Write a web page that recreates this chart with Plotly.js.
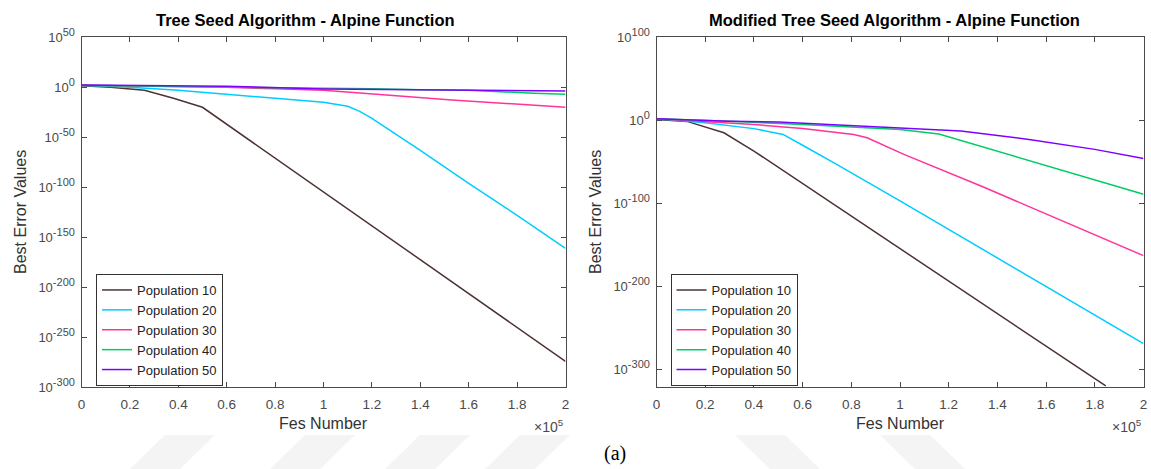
<!DOCTYPE html>
<html>
<head>
<meta charset="utf-8">
<script src="https://cdn.plot.ly/plotly-3.0.1.min.js"></script>
<style>html,body{margin:0;padding:0;background:#fff;}#chart{width:1151px;height:469px;}</style>
</head>
<body>
<div id="chart"></div>
<script>
// ---------- data ----------
const seriesNames = ["Population 10", "Population 20", "Population 30", "Population 40", "Population 50"];
const seriesColors = ["#4d3333", "#00ccff", "#ff3399", "#00cc66", "#8000ff"];

// Left panel: Tree Seed Algorithm
const tsaX10 = [0, 12000, 26000, 38000, 50000, 73000, 115000, 162000, 200000];
const tsaY10 = [3e1, 1e0, 1e-3, 1e-11, 1e-20, 1e-59, 1e-130, 1e-210, 1e-274];
const tsaX20 = [0, 20000, 40000, 60000, 80000, 100000, 110000, 115000, 120000, 140000, 160000, 180000, 200000];
const tsaY20 = [1e2, 1e0, 1e-3, 1e-7, 1e-11, 1e-15, 1e-19, 1e-24, 1e-31, 1e-63, 1e-96, 1e-128, 1e-161];
const tsaX30 = [0, 30000, 60000, 80000, 100000, 126000, 153000, 181000, 200000];
const tsaY30 = [1e2, 1e1, 1e0, 3e-2, 1e-3, 2e-8, 2e-13, 1e-17, 1e-20];
const tsaX40 = [0, 40000, 80000, 120000, 140000, 160000, 187000, 200000];
const tsaY40 = [1e2, 1e1, 1e0, 3e-2, 3e-3, 1e-3, 1e-6, 1e-7];
const tsaX50 = [0, 60000, 100000, 160000, 195000, 200000];
const tsaY50 = [2e2, 1e1, 2e-2, 2e-3, 1e-3, 2e-4];

// Right panel: Modified Tree Seed Algorithm
const mtsaX10 = [0, 12500, 27700, 40000, 184500];
const mtsaY10 = [1e1, 5e-2, 1e-15, 1e-37, 1e-320];
const mtsaX20 = [0, 20000, 40000, 52000, 60000, 74000, 100000, 138000, 169000, 200000];
const mtsaY20 = [1e2, 1e-3, 1e-10, 1e-17, 1e-30, 1e-53, 1e-97, 1e-162, 1e-215, 1e-269];
const mtsaX30 = [0, 40000, 60000, 81000, 86500, 101600, 134000, 179000, 200000];
const mtsaY30 = [1e2, 1e-5, 1e-10, 1e-17, 1e-21, 1e-41, 1e-80, 1e-137, 1e-163];
const mtsaX40 = [0, 30000, 60000, 80000, 100000, 116000, 120000, 139000, 164000, 184000, 200000];
const mtsaY40 = [1e2, 1e-1, 1e-5, 1e-8, 1e-11, 3e-17, 1e-20, 1e-36, 1e-58, 1e-75, 1e-89];
const mtsaX50 = [0, 30000, 50000, 100000, 125000, 153000, 180000, 200000];
const mtsaY50 = [1e2, 1e-1, 1e-2, 1e-9, 1e-13, 1e-23, 1e-35, 1e-46];

// ticks
const xTickVals = [0, 20000, 40000, 60000, 80000, 100000, 120000, 140000, 160000, 180000, 200000];
const xTickText = ["0", "0.2", "0.4", "0.6", "0.8", "1", "1.2", "1.4", "1.6", "1.8", "2"];
const yTickExpLeft = [50, 0, -50, -100, -150, -200, -250, -300];
const yTickExpRight = [100, 0, -100, -200, -300];

const titles = ["Tree Seed Algorithm - Alpine Function", "Modified Tree Seed Algorithm - Alpine Function"];

// ---------- build ----------
const leftX = [tsaX10, tsaX20, tsaX30, tsaX40, tsaX50];
const leftY = [tsaY10, tsaY20, tsaY30, tsaY40, tsaY50];
const rightX = [mtsaX10, mtsaX20, mtsaX30, mtsaX40, mtsaX50];
const rightY = [mtsaY10, mtsaY20, mtsaY30, mtsaY40, mtsaY50];

const traces = [];
for (let i = 0; i < 5; i++) {
  traces.push({x: leftX[i], y: leftY[i], type: 'scatter', mode: 'lines', name: seriesNames[i],
    line: {color: seriesColors[i], width: 1.5}, xaxis: 'x', yaxis: 'y', legend: 'legend'});
}
for (let i = 0; i < 5; i++) {
  traces.push({x: rightX[i], y: rightY[i], type: 'scatter', mode: 'lines', name: seriesNames[i],
    line: {color: seriesColors[i], width: 1.5}, xaxis: 'x2', yaxis: 'y2', legend: 'legend2'});
}

const W = 1151, H = 469;
const px = v => v / W, py = v => 1 - v / H;
const axCol = '#4a4a4a';
const FAM = 'Liberation Sans, Arial, sans-serif';
const tickFont = {family: FAM, size: 13.5, color: '#4a4a4a'};

function xAxis(domain, anchor) {
  return {domain: domain, anchor: anchor, range: [0, 200000], tickmode: 'array', tickvals: xTickVals, ticktext: xTickText,
    ticks: 'inside', ticklen: 5, tickcolor: axCol, showline: true, linecolor: axCol, linewidth: 1, mirror: 'ticks',
    showgrid: false, zeroline: false, tickfont: tickFont, ticklabelstandoff: 4, fixedrange: true};
}
function yAxis(domain, anchor, range, exps) {
  return {domain: domain, anchor: anchor, type: 'log', range: range, tickmode: 'array',
    tickvals: exps.map(e => Math.pow(10, e)),
    ticktext: exps.map(e => '10<sup><span style="font-size:11px">' + e + '</span></sup>'),
    ticks: 'inside', ticklen: 5, tickcolor: axCol, showline: true, linecolor: axCol, linewidth: 1, mirror: 'ticks',
    showgrid: false, zeroline: false, tickfont: {family: FAM, size: 13, color: '#4a4a4a'}, ticklabelstandoff: 3, fixedrange: true};
}

const yDom = [py(387.3), py(37.3)];
const lDom = [px(81.5), px(565.5)];
const rDom = [px(656.5), px(1143.5)];

const labFont = {family: FAM, size: 16, color: '#333'};
const titFont = {family: FAM, size: 16.5, color: '#000'};
const legFont = {family: FAM, size: 13, color: '#222'};

const annotations = [
  {text: '<b>' + titles[0] + '</b>', x: px(305), y: py(20), xref: 'paper', yref: 'paper', showarrow: false, font: titFont, xanchor: 'center', yanchor: 'middle'},
  {text: '<b>' + titles[1] + '</b>', x: px(894), y: py(20), xref: 'paper', yref: 'paper', showarrow: false, font: titFont, xanchor: 'center', yanchor: 'middle'},
  {text: 'Fes Number', x: px(323.5), y: py(423), xref: 'paper', yref: 'paper', showarrow: false, font: labFont, xanchor: 'center', yanchor: 'middle'},
  {text: 'Fes Number', x: px(900), y: py(423), xref: 'paper', yref: 'paper', showarrow: false, font: labFont, xanchor: 'center', yanchor: 'middle'},
  {text: 'Best Error Values', x: px(20), y: py(212), xref: 'paper', yref: 'paper', showarrow: false, font: labFont, textangle: -90, xanchor: 'center', yanchor: 'middle'},
  {text: 'Best Error Values', x: px(595), y: py(212), xref: 'paper', yref: 'paper', showarrow: false, font: labFont, textangle: -90, xanchor: 'center', yanchor: 'middle'},
  {text: '×10<sup>5</sup>', x: px(566), y: py(426), xref: 'paper', yref: 'paper', showarrow: false, font: {family: FAM, size: 14, color: '#4a4a4a'}, xanchor: 'right', yanchor: 'middle'},
  {text: '×10<sup>5</sup>', x: px(1144), y: py(426), xref: 'paper', yref: 'paper', showarrow: false, font: {family: FAM, size: 14, color: '#4a4a4a'}, xanchor: 'right', yanchor: 'middle'},
  {text: '(a)', x: px(615), y: py(453), xref: 'paper', yref: 'paper', showarrow: false, font: {family: 'Liberation Serif, Times New Roman, serif', size: 20, color: '#000'}, xanchor: 'center', yanchor: 'middle'}
];

// faint watermark stripes at the bottom
const shapes = [];
const stripeL = [165, 305, 420, 520];
stripeL.forEach(s => shapes.push({type: 'path', xref: 'paper', yref: 'paper', layer: 'below', line: {width: 0}, fillcolor: '#f4f4f4',
  path: `M${px(s)},${py(435)} L${px(s + 50)},${py(435)} L${px(s + 15)},${py(469)} L${px(s - 35)},${py(469)} Z`}));
const stripeR = [735, 880];
stripeR.forEach(s => shapes.push({type: 'path', xref: 'paper', yref: 'paper', layer: 'below', line: {width: 0}, fillcolor: '#f4f4f4',
  path: `M${px(s)},${py(435)} L${px(s + 50)},${py(435)} L${px(s + 85)},${py(469)} L${px(s + 35)},${py(469)} Z`}));

function legendCfg(xp) {
  return {x: px(xp), y: py(330), xanchor: 'left', yanchor: 'middle', xref: 'paper', yref: 'paper',
    bgcolor: '#fff', bordercolor: '#333', borderwidth: 1, font: legFont, tracegroupgap: 0, itemwidth: 30};
}

const layout = {
  width: W, height: H, margin: {l: 0, r: 0, t: 0, b: 0}, paper_bgcolor: '#fff', plot_bgcolor: '#fff',
  showlegend: true,
  xaxis: xAxis(lDom, 'y'), yaxis: yAxis(yDom, 'x', [-300, 50], yTickExpLeft),
  xaxis2: xAxis(rDom, 'y2'), yaxis2: yAxis(yDom, 'x2', [-321.6, 100], yTickExpRight),
  legend: legendCfg(96), legend2: legendCfg(670.5),
  annotations: annotations, shapes: shapes
};

Plotly.newPlot('chart', traces, layout, {staticPlot: true, displayModeBar: false});
</script>
</body>
</html>
